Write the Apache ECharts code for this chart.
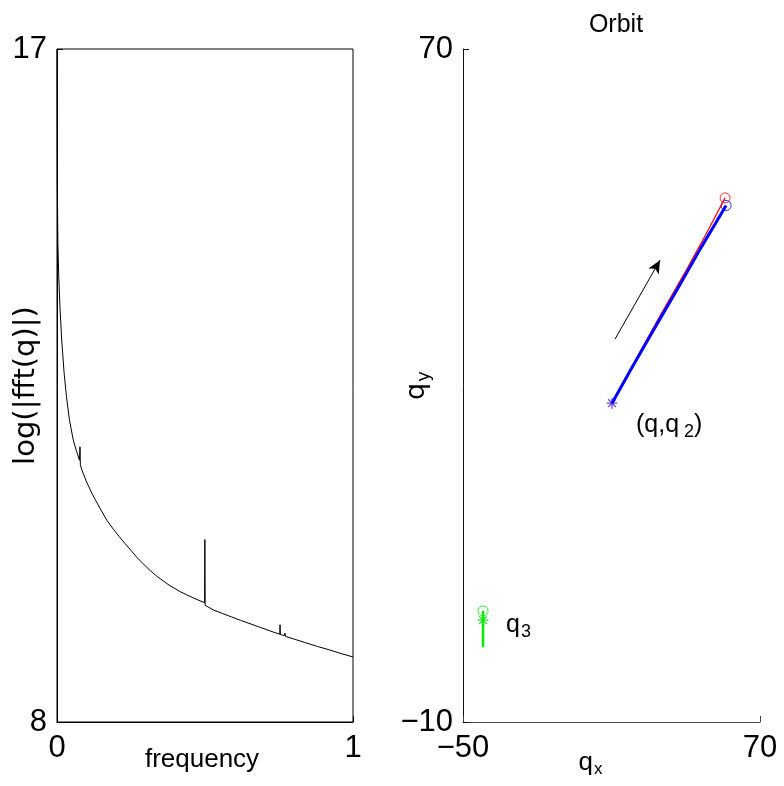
<!DOCTYPE html>
<html>
<head>
<meta charset="utf-8">
<script src="https://cdn.jsdelivr.net/npm/echarts@6/dist/echarts.min.js"></script>
<style>html,body{margin:0;padding:0;background:#fff}#c{width:784px;height:786px}</style>
</head>
<body>
<div id="c"></div>
<script>
// ---- Left panel: spectrum ----
const freq = [0, 0.001, 0.003, 0.006, 0.010, 0.016, 0.024, 0.032, 0.042, 0.055, 0.066, 0.076, 0.0777, 0.079, 0.084,
  0.10, 0.12, 0.145, 0.168, 0.19, 0.21, 0.23, 0.25, 0.252, 0.254, 0.27, 0.29, 0.315, 0.337, 0.375, 0.415, 0.46,
  0.4985, 0.4995, 0.5005, 0.503, 0.53, 0.56, 0.59, 0.62, 0.68, 0.74, 0.7525, 0.7535, 0.7545, 0.768, 0.770, 0.772,
  0.80, 0.84, 0.88, 0.92, 0.96, 1.0];
const logAmp = [17, 15.2, 14.4, 13.95, 13.55, 13.1, 12.67, 12.35, 12.04, 11.77, 11.62, 11.50, 11.68, 11.44, 11.37,
  11.21, 11.04, 10.86, 10.70, 10.58, 10.48, 10.385, 10.295, 10.31, 10.28, 10.20, 10.12, 10.025, 9.95, 9.84, 9.745, 9.66,
  9.595, 10.44, 9.56, 9.54, 9.495, 9.45, 9.405, 9.36, 9.275, 9.19, 9.175, 9.30, 9.17, 9.155, 9.19, 9.145,
  9.11, 9.06, 9.01, 8.965, 8.915, 8.87];
const leftXTicks = [0, 1];
const leftYTicks = [8, 17];

// ---- Right panel: orbit ----
const orbit1X = [10.2, 20, 30, 40, 48, 55.9];
const orbit1Y = [27.9, 33.2, 38.5, 43.6, 47.9, 52.3];
const orbit2X = [10.2, 18, 26, 36.3, 46, 56.3];
const orbit2Y = [27.9, 32.0, 36.1, 41.3, 46.3, 51.4];
const orbit3X = [-41.9, -41.9, -41.9];
const orbit3Y = [3.2, 1.0, -1.1];
const startPoints = [[10.2, 27.9], [-41.9, 2.1]];
const arrowFrom = [11.4, 35.5];
const arrowTo = [29.6, 44.9];
const labelQ12 = [19.9, 25.3];
const labelQ3 = [-32.6, 1.5];
const rightXTicks = [-50, 70];
const rightYTicks = [-10, 70];

const zip = (a, b) => a.map((v, i) => [v, b[i]]);
const minus = v => String(v).replace('-', '\u2212');
const tickFont = {fontFamily: "'Liberation Sans Narrow', 'Liberation Sans', Arial, sans-serif", fontSize: 31, color: '#000'};
const LS = "'Liberation Sans', Arial, sans-serif";
const DJ = "'DejaVu Sans', sans-serif";
const nameFont = {fontFamily: LS, fontSize: 26, color: '#000'};
const starPath = 'path://M0,-10L0,10M-10,0L10,0M-7,-7L7,7M-7,7L7,-7';

const chart = echarts.init(document.getElementById('c'), null, {renderer: 'canvas'});
chart.setOption({
  animation: false,
  backgroundColor: '#fff',
  title: {
    text: 'Orbit', left: 611, top: 8, textAlign: 'center',
    textStyle: {fontFamily: LS, fontSize: 25, fontWeight: 'normal', color: '#000'}
  },
  grid: [
    {left: 57, right: 431, top: 49, bottom: 64, show: true, borderColor: '#000', borderWidth: 1, outerBoundsMode: 'none', containLabel: false},
    {left: 463, right: 24, top: 49, bottom: 64, outerBoundsMode: 'none', containLabel: false}
  ],
  xAxis: [
    {gridIndex: 0, type: 'value', min: 0, max: 1,
     name: 'frequency', nameLocation: 'middle', nameGap: 25, nameMoveOverlap: false,
     nameTextStyle: Object.assign({padding: [0, 6, 0, 0]}, nameFont),
     axisLine: {onZero: false, lineStyle: {color: '#000', width: 1}},
     axisTick: {inside: true, length: 6, customValues: leftXTicks, lineStyle: {color: '#000'}},
     axisLabel: Object.assign({customValues: leftXTicks, margin: 11, formatter: minus}, tickFont),
     splitLine: {show: false}},
    {gridIndex: 1, type: 'value', min: -50, max: 70,
     name: '{a|q}{b|x}', nameLocation: 'middle', nameGap: 25, nameMoveOverlap: false,
     nameTextStyle: {padding: [0, 42, 0, 0], rich: {a: {fontFamily: LS, fontSize: 26, color: '#000'}, b: {fontFamily: LS, fontSize: 17, color: '#000', verticalAlign: 'bottom', padding: [14, 0, 0, 1]}}},
     axisLine: {onZero: false, lineStyle: {color: '#444', width: 1}},
     axisTick: {inside: true, length: 6, customValues: rightXTicks, lineStyle: {color: '#444'}},
     axisLabel: Object.assign({customValues: rightXTicks, margin: 11, formatter: minus}, tickFont),
     splitLine: {show: false}}
  ],
  yAxis: [
    {gridIndex: 0, type: 'value', min: 8, max: 17,
     name: 'log(|fft(q)|)', nameLocation: 'middle', nameRotate: 90, nameGap: 16, nameMoveOverlap: false,
     nameTextStyle: {fontFamily: DJ, fontSize: 29, color: '#000'},
     axisLine: {onZero: false, lineStyle: {color: '#000', width: 1}},
     axisTick: {inside: true, length: 6, customValues: leftYTicks, lineStyle: {color: '#000'}},
     axisLabel: Object.assign({customValues: leftYTicks, margin: 10, padding: [0, 0, 9, 0], formatter: minus}, tickFont),
     splitLine: {show: false}},
    {gridIndex: 1, type: 'value', min: -10, max: 70,
     name: '{a|q}{b|y}', nameLocation: 'middle', nameRotate: 90, nameGap: 30, nameMoveOverlap: false,
     nameTextStyle: {rich: {a: {fontFamily: DJ, fontSize: 27, color: '#000'}, b: {fontFamily: DJ, fontSize: 18, color: '#000', verticalAlign: 'bottom', padding: [14, 0, 0, 1]}}},
     axisLine: {onZero: false, lineStyle: {color: '#111', width: 1}},
     axisTick: {inside: true, length: 6, customValues: rightYTicks, lineStyle: {color: '#111'}},
     axisLabel: Object.assign({customValues: rightYTicks, margin: 10, padding: [0, 0, 9, 0], formatter: minus}, tickFont),
     splitLine: {show: false}}
  ],
  series: [
    {type: 'line', xAxisIndex: 0, yAxisIndex: 0, data: zip(freq, logAmp), showSymbol: false,
     lineStyle: {color: '#000', width: 1}, itemStyle: {color: '#000'}},
    {type: 'line', xAxisIndex: 1, yAxisIndex: 1, data: zip(orbit1X, orbit1Y), showSymbol: false,
     lineStyle: {color: '#ff0000', width: 1.2}, itemStyle: {color: '#ff0000'},
     markLine: {silent: true, symbol: ['none', 'arrow'], symbolSize: [9, 13],
       lineStyle: {color: '#000', width: 1, type: 'solid'}, label: {show: false},
       data: [[{coord: arrowFrom}, {coord: arrowTo}]]}},
    {type: 'line', xAxisIndex: 1, yAxisIndex: 1, data: zip(orbit2X, orbit2Y), showSymbol: false,
     lineStyle: {color: '#0000ff', width: 3}, itemStyle: {color: '#0000ff'}},
    {type: 'line', xAxisIndex: 1, yAxisIndex: 1, data: zip(orbit3X, orbit3Y), showSymbol: false,
     lineStyle: {color: '#00ee00', width: 2.5}, itemStyle: {color: '#00ee00'}},
    {type: 'scatter', xAxisIndex: 1, yAxisIndex: 1, symbol: 'circle', symbolSize: 10,
     data: [
       {value: [orbit1X[orbit1X.length - 1], orbit1Y[orbit1Y.length - 1]], itemStyle: {color: 'transparent', borderColor: '#ff0000', borderWidth: 1}},
       {value: [orbit2X[orbit2X.length - 1], orbit2Y[orbit2Y.length - 1]], itemStyle: {color: 'transparent', borderColor: '#0000ff', borderWidth: 1}},
       {value: [orbit3X[0], orbit3Y[0]], itemStyle: {color: 'transparent', borderColor: '#00ee00', borderWidth: 1}}
     ]},
    {type: 'scatter', xAxisIndex: 1, yAxisIndex: 1, symbol: starPath, symbolSize: 11,
     data: [
       {value: startPoints[0], itemStyle: {color: 'transparent', borderColor: '#4a1fd0', borderWidth: 1.3}},
       {value: startPoints[1], itemStyle: {color: 'transparent', borderColor: '#00cc00', borderWidth: 1.3}}
     ]},
    {type: 'scatter', xAxisIndex: 1, yAxisIndex: 1, symbolSize: 0, silent: true,
     itemStyle: {opacity: 1},
     data: [
       {value: labelQ12, label: {show: true, position: 'right', distance: 0, color: '#000', opacity: 1, formatter: '{a|(q,q}{b| 2}{a|)}',
         rich: {a: {fontFamily: LS, fontSize: 25, color: '#000'}, b: {fontFamily: LS, fontSize: 18, color: '#000', verticalAlign: 'bottom', padding: [14, 0, 0, 0]}}}},
       {value: labelQ3, label: {show: true, position: 'right', distance: 0, color: '#000', opacity: 1, formatter: '{a|q}{b|3}',
         rich: {a: {fontFamily: LS, fontSize: 25, color: '#000'}, b: {fontFamily: LS, fontSize: 18, color: '#000', verticalAlign: 'bottom', padding: [14, 0, 0, 1]}}}}
     ]}
  ]
});
</script>
</body>
</html>
